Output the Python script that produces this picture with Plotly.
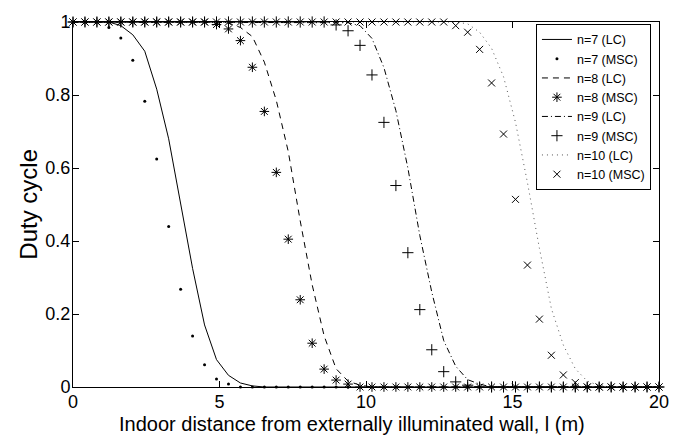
import numpy as np
import plotly.graph_objects as go

# Sampling positions along the room depth (m)
distance = np.linspace(0, 20, 50)

# Duty cycle, LC (lines) and MSC (markers), for n = 7..10
n7_lc = [1.0] * 4 + [0.99, 0.965, 0.92, 0.816, 0.68, 0.50, 0.325, 0.17, 0.075,
                     0.032, 0.011, 0.003] + [0.0] * 34
n7_msc = [1.0] * 3 + [0.985, 0.956, 0.895, 0.783, 0.625, 0.440, 0.268, 0.140,
                      0.061, 0.022, 0.008] + [0.0] * 36
n8_lc = [1.0] * 13 + [0.997, 0.985, 0.96, 0.89, 0.785, 0.645, 0.455, 0.28,
                      0.14, 0.05, 0.016, 0.005] + [0.0] * 25
n8_msc = [1.0] * 12 + [0.993, 0.981, 0.949, 0.876, 0.755, 0.588, 0.405, 0.239,
                       0.120, 0.049, 0.019, 0.008] + [0.0] * 26
n9_lc = [1.0] * 23 + [0.998, 0.99, 0.955, 0.875, 0.757, 0.60, 0.415, 0.26,
                      0.127, 0.057, 0.02, 0.008] + [0.0] * 15
n9_msc = [1.0] * 22 + [0.992, 0.976, 0.936, 0.855, 0.725, 0.552, 0.368, 0.212,
                       0.102, 0.042, 0.014, 0.005] + [0.0] * 16
n10_lc = [1.0] * 33 + [0.995, 0.972, 0.928, 0.85, 0.725, 0.56, 0.38, 0.215,
                       0.115, 0.05, 0.016, 0.004] + [0.0] * 5
n10_msc = [1.0] * 32 + [0.990, 0.972, 0.925, 0.833, 0.693, 0.514, 0.334, 0.186,
                        0.087, 0.033, 0.012] + [0.0] * 7

x_ticks = [0, 5, 10, 15, 20]
y_ticks = [0, 0.2, 0.4, 0.6, 0.8, 1]
y_tick_text = ["0", "0.2", "0.4", "0.6", "0.8", "1"]

FONT = "Liberation Sans, Arial, Helvetica, sans-serif"

fig = go.Figure()


def add_line(y, name, dash, color="black"):
    fig.add_trace(go.Scatter(x=distance, y=y, name=name, mode="lines",
                             line=dict(color=color, width=1, dash=dash),
                             cliponaxis=False))


def add_markers(y, name, symbol, size, lw=1):
    fig.add_trace(go.Scatter(x=distance, y=y, name=name, mode="markers",
                             marker=dict(symbol=symbol, size=size, color="black",
                                         line=dict(color="black", width=lw)),
                             cliponaxis=False))


add_line(n7_lc, "n=7 (LC)", "solid")
add_markers(n7_msc, "n=7 (MSC)", "circle", 3, 0)
add_line(n8_lc, "n=8 (LC)", "6px,5px")
add_markers(n8_msc, "n=8 (MSC)", "asterisk-open", 8)
add_line(n9_lc, "n=9 (LC)", "6px,3px,1px,3px")
add_markers(n9_msc, "n=9 (MSC)", "cross-thin-open", 8)
add_line(n10_lc, "n=10 (LC)", "1px,4px", color="#555555")
add_markers(n10_msc, "n=10 (MSC)", "x-thin-open", 7)

axis_common = dict(showgrid=False, zeroline=False, showline=True,
                   linecolor="black", linewidth=1, mirror="ticks",
                   ticks="inside", ticklen=6, tickcolor="black",
                   tickfont=dict(family=FONT, size=18, color="black"))

fig.update_xaxes(range=[0, 20], tickvals=x_ticks, ticklabelstandoff=-2,
                 **axis_common)
fig.update_yaxes(range=[0, 1], tickvals=y_ticks, ticktext=y_tick_text,
                 ticklabelstandoff=-2, **axis_common)

# Axis titles
fig.add_annotation(text="Indoor distance from externally illuminated wall, l (m)",
                   xref="paper", yref="paper", x=0.476, y=0,
                   xanchor="center", yanchor="top", yshift=-24, showarrow=False,
                   font=dict(family=FONT, size=20, color="black"))
fig.add_annotation(text="Duty cycle", textangle=-90,
                   xref="paper", yref="paper", x=-0.0765, y=0.5,
                   xanchor="center", yanchor="middle", showarrow=False,
                   font=dict(family=FONT, size=24, color="black"))

fig.update_layout(
    width=681, height=437,
    margin=dict(l=73, r=20, t=17, b=50),
    paper_bgcolor="white", plot_bgcolor="white",
    font=dict(family=FONT, color="black"),
    showlegend=True,
    legend=dict(x=0.79, y=0.995, xanchor="left", yanchor="top",
                bgcolor="white", bordercolor="black", borderwidth=1,
                font=dict(family=FONT, size=12.5, color="black"),
                tracegroupgap=0),
)

fig.write_html("out.html")
